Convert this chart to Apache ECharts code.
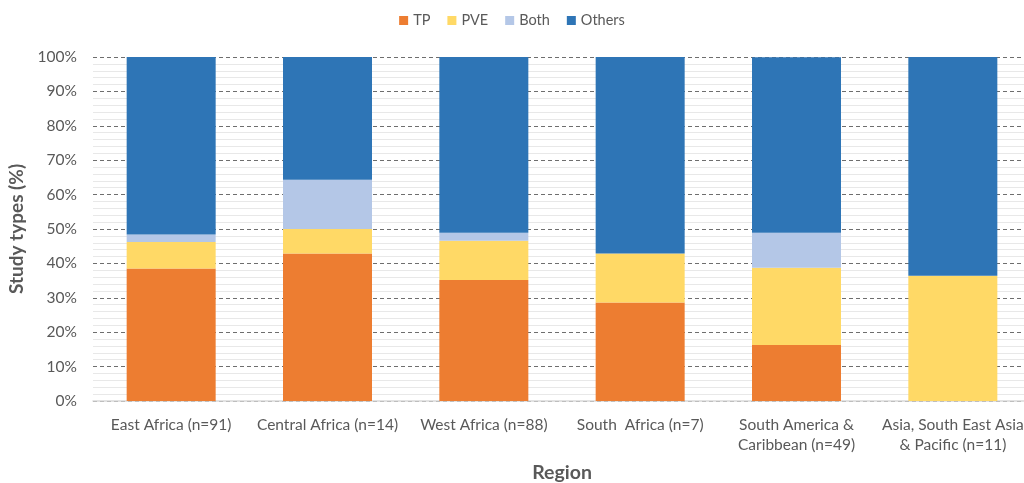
<!DOCTYPE html>
<html>
<head>
<meta charset="utf-8">
<script src="https://cdn.jsdelivr.net/npm/echarts@6/dist/echarts.min.js"></script>
<style>
  html, body { margin: 0; padding: 0; background: #fff; }
  #chart { width: 1024px; height: 483px; }
</style>
</head>
<body>
<div id="chart"></div>
<script>
// regions (x axis)
let regions = [
  'East Africa (n=91)',
  'Central Africa (n=14)',
  'West Africa (n=88)',
  'South  Africa (n=7)',
  'South America &\nCaribbean (n=49)',
  'Asia, South East Asia\n& Pacific (n=11)'
]
// share of study types, %
let tp = [38.5, 42.9, 35.2, 28.6, 16.3, 0]
let pve = [7.7, 7.1, 11.4, 14.3, 22.4, 36.4]
let both = [2.2, 14.3, 2.3, 0, 10.2, 0]
let others = [51.6, 35.7, 51.1, 57.1, 51.0, 63.6]

let font = 'Lato, "Open Sans", sans-serif'
let grey = '#595959'

let myChart = echarts.init(document.getElementById('chart'))

function bar(name, data, color) {
  return {
    name: name,
    type: 'bar',
    stack: 'total',
    barWidth: 89,
    data: data,
    itemStyle: { color: color }
  }
}

myChart.setOption({
  animation: false,
  textStyle: { fontFamily: font },
  legend: {
    top: 8,
    left: 'center',
    itemWidth: 9,
    itemHeight: 9,
    itemGap: 17,
    icon: 'rect',
    textStyle: { color: grey, fontSize: 14.5, fontFamily: font }
  },
  // plot runs a little past the right edge, as in the source image
  grid: { left: 93, width: 938, top: 57, bottom: 82, containLabel: false, outerBoundsMode: 'none' },
  xAxis: {
    type: 'category',
    data: regions,
    name: 'Region',
    nameLocation: 'middle',
    nameGap: 62,
    nameTextStyle: { color: grey, fontSize: 19.5, fontWeight: 'bold', fontFamily: font },
    axisLine: { lineStyle: { color: '#d9d9d9', width: 1.5 } },
    axisTick: { show: false },
    axisLabel: { color: grey, fontSize: 15.5, margin: 14, lineHeight: 20, fontFamily: font, interval: 0 }
  },
  yAxis: {
    type: 'value',
    min: 0,
    max: 100,
    interval: 10,
    name: 'Study types (%)',
    nameLocation: 'middle',
    nameGap: 65,
    nameTextStyle: { color: grey, fontSize: 19, fontWeight: 'bold', fontFamily: font },
    axisLabel: { color: grey, fontSize: 15.5, margin: 16, formatter: '{value}%', fontFamily: font },
    axisLine: { show: false },
    axisTick: { show: false },
    splitLine: { lineStyle: { color: '#6e6e6e', type: [4, 3], width: 1 } },
    minorTick: { show: false, splitNumber: 5 },
    minorSplitLine: { show: true, lineStyle: { color: '#e8e8e8', width: 1 } }
  },
  series: [
    bar('TP', tp, '#ED7D31'),
    bar('PVE', pve, '#FFD966'),
    bar('Both', both, '#B4C7E7'),
    bar('Others', others, '#2E75B6')
  ]
})
</script>
</body>
</html>
